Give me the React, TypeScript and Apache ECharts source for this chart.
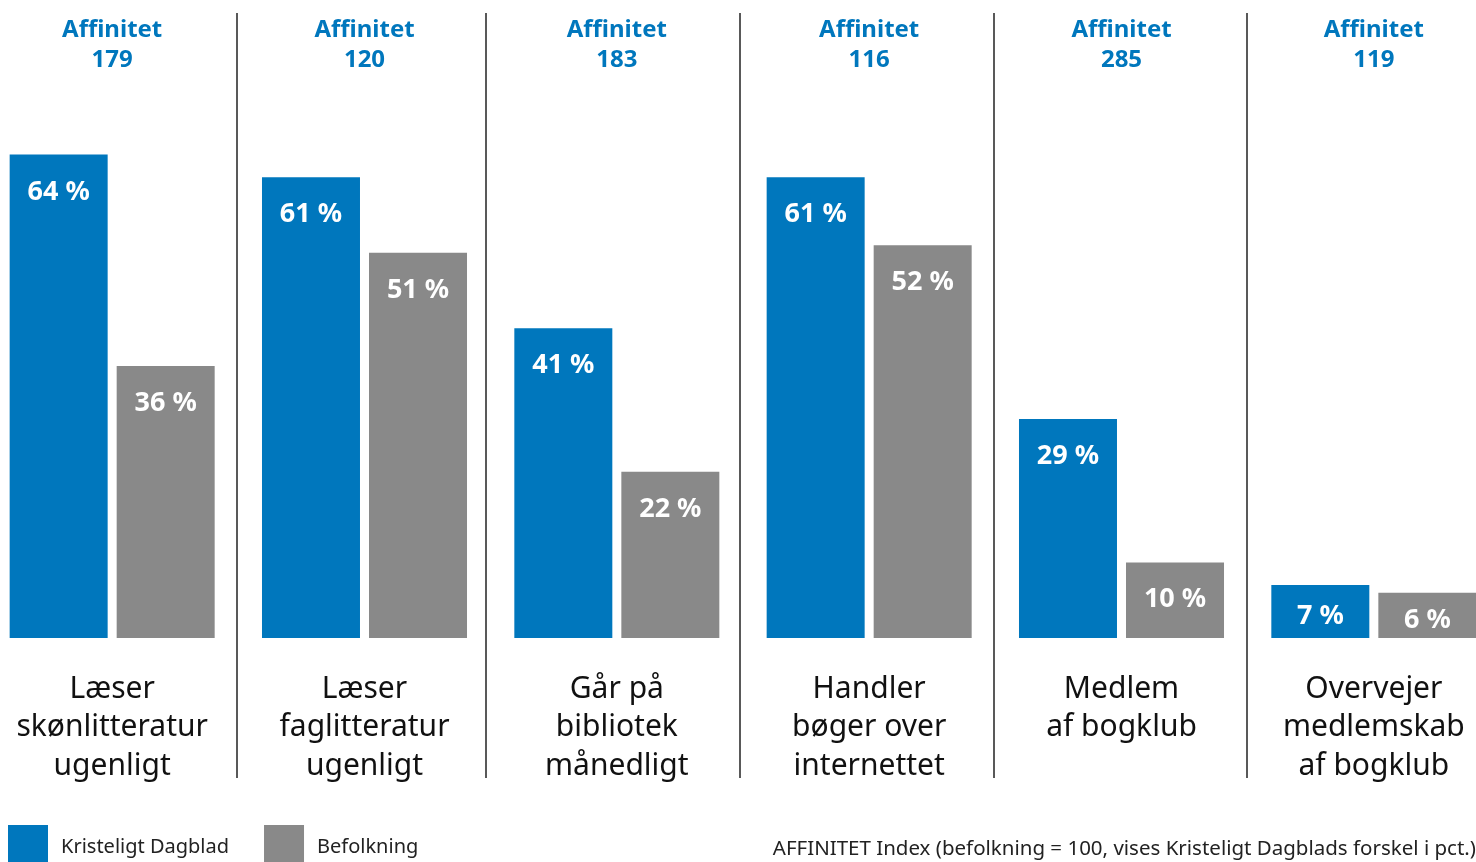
import React, { useEffect, useRef } from "react";
import * as echarts from "echarts";

const categories = [
  "Læser\nskønlitteratur\nugenligt",
  "Læser\nfaglitteratur\nugenligt",
  "Går på\nbibliotek\nmånedligt",
  "Handler\nbøger over\ninternettet",
  "Medlem\naf bogklub",
  "Overvejer\nmedlemskab\naf bogklub",
];
const affinitet = [179, 120, 183, 116, 285, 119];
const kristeligt = [64, 61, 41, 61, 29, 7];
const befolkning = [36, 51, 22, 52, 10, 6];
const seriesNames = ["Kristeligt Dagblad", "Befolkning"];
const footnote = "AFFINITET Index (befolkning = 100, vises Kristeligt Dagblads forskel i pct.)";
const separatorsX = [237, 486, 740, 994, 1247];

const BLUE = "#0077BD";
const GRAY = "#898989";
const FONT = "'Noto Sans', 'Open Sans', sans-serif";

function barData(values: number[]) {
  return values.map((v) =>
    v < 9
      ? { value: v, label: { position: "inside", offset: [0, 2] } }
      : { value: v }
  );
}

export default function App() {
  const ref = useRef<HTMLDivElement>(null);
  useEffect(() => {
    if (!ref.current) return;
    const chart = echarts.init(ref.current, undefined, { renderer: "svg" });
    const labelStyle = {
      show: true,
      position: "insideTop",
      distance: 21,
      color: "#fff",
      fontSize: 27,
      fontWeight: "bold",
      fontFamily: FONT,
      formatter: (p: any) => `${p.value} %`,
    };
    chart.setOption({
      animation: false,
      textStyle: { fontFamily: FONT },
      grid: {
        left: -14,
        right: -24,
        top: 79,
        bottom: 224,
        outerBoundsMode: "none",
        containLabel: false,
      },
      title: {
        text: footnote,
        right: 0,
        top: 836,
        padding: 0,
        textStyle: { fontSize: 20.5, fontWeight: "normal", color: "#222", fontFamily: FONT },
      },
      legend: {
        left: 8,
        top: 825,
        padding: 0,
        itemWidth: 40,
        itemHeight: 40,
        itemGap: 35,
        icon: "rect",
        data: seriesNames,
        textStyle: { fontSize: 20, color: "#222", fontFamily: FONT, padding: [4, 0, 0, 8] },
      },
      xAxis: [
        {
          type: "category",
          data: categories,
          axisLine: { show: false },
          axisTick: { show: false },
          axisLabel: {
            interval: 0,
            margin: 29,
            fontSize: 30,
            lineHeight: 38.5,
            color: "#111",
            fontFamily: FONT,
          },
        },
        {
          type: "category",
          position: "top",
          data: affinitet.map((a) => `Affinitet\n${a}`),
          axisLine: { show: false },
          axisTick: { show: false },
          axisLabel: {
            interval: 0,
            margin: 7,
            fontSize: 24,
            lineHeight: 30,
            fontWeight: "bold",
            color: BLUE,
            fontFamily: FONT,
          },
        },
      ],
      yAxis: {
        type: "value",
        min: 0,
        max: 74,
        show: false,
        splitLine: { show: false },
      },
      graphic: separatorsX.map((x) => ({
        type: "line",
        shape: { x1: x, y1: 13, x2: x, y2: 778 },
        style: { stroke: "#222", lineWidth: 1.5 },
      })),
      series: [
        {
          name: seriesNames[0],
          type: "bar",
          data: barData(kristeligt),
          barWidth: 98,
          barGap: "9.2%",
          itemStyle: { color: BLUE },
          label: labelStyle,
        },
        {
          name: seriesNames[1],
          type: "bar",
          data: barData(befolkning),
          barWidth: 98,
          barGap: "9.2%",
          itemStyle: { color: GRAY },
          label: labelStyle,
        },
      ],
    });
    return () => chart.dispose();
  }, []);
  return (
    <div
      ref={ref}
      style={{ position: "fixed", left: 0, top: 0, width: 1476, height: 862 }}
    />
  );
}
